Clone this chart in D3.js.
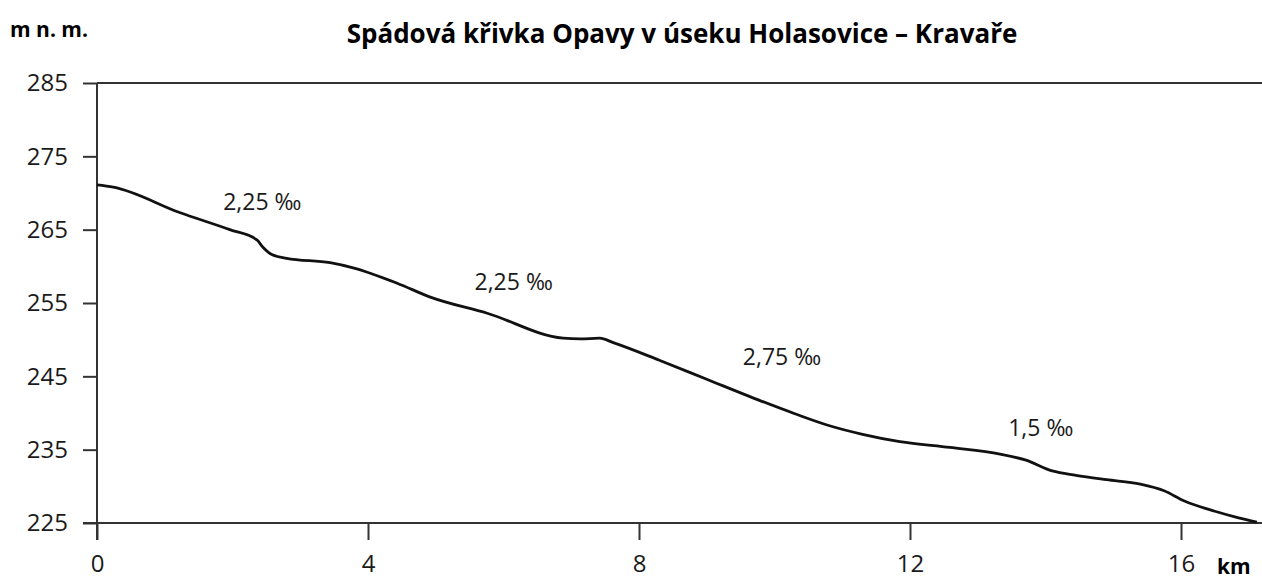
<!DOCTYPE html>
<html>
<head>
<meta charset="utf-8">
<script src="https://cdn.jsdelivr.net/npm/d3@7"></script>
<style>
  body { margin: 0; background: #fff; }
  svg { display: block; }
</style>
</head>
<body>
<div id="chart"></div>
<script>
// river profile, km from Holasovice and elevation in m n. m.
const distanceKm = [0, 0.24, 1.23, 1.96, 2.36, 2.45, 2.58, 2.80, 3.44, 3.78, 4.43, 4.92, 5.76, 6.88, 7.13, 7.42, 7.62, 8.3, 9.0, 9.7, 10.3, 10.8, 11.3, 11.85, 12.59, 13.33, 13.70, 14.10, 14.45, 14.90, 15.40, 15.75, 16.05, 16.50, 16.85, 17.12];
const elevation = [271.1, 270.8, 267.3, 265.0, 263.6, 262.6, 261.6, 261.1, 260.5, 259.8, 257.7, 255.8, 253.6, 250.2, 250.1, 250.2, 249.6, 247.2, 244.6, 242.0, 239.9, 238.3, 237.1, 236.1, 235.3, 234.4, 233.6, 232.1, 231.5, 230.9, 230.3, 229.4, 228.0, 226.6, 225.7, 225.1];

const slopeLabels = ["2,25 ‰", "2,25 ‰", "2,75 ‰", "1,5 ‰"];
const slopeKm = [2.44, 6.15, 10.11, 13.93];
const slopeM = [268.8, 257.9, 247.6, 238.0];

const yTicks = [225, 235, 245, 255, 265, 275, 285];
const xTicks = [0, 4, 8, 12, 16];

const width = 1262;
const height = 579;
const font = "'Open Sans', sans-serif";

const svg = d3.select("#chart")
  .append("svg")
  .attr("width", width)
  .attr("height", height);

const x = d3.scaleLinear().domain([0, 16]).range([97, 1181]);
const y = d3.scaleLinear().domain([225, 285]).range([523, 83]);

// title and unit labels
svg.append("text")
  .attr("x", 682).attr("y", 43)
  .attr("text-anchor", "middle")
  .attr("font-family", font)
  .attr("font-weight", "bold")
  .attr("font-size", 26)
  .attr("fill", "#000")
  .text("Spádová křivka Opavy v úseku Holasovice – Kravaře");

svg.append("text")
  .attr("x", 10).attr("y", 37)
  .attr("font-family", font)
  .attr("font-weight", "bold")
  .attr("font-size", 21)
  .attr("fill", "#000")
  .text("m n. m.");

svg.append("text")
  .attr("x", 1217).attr("y", 574)
  .attr("font-family", font)
  .attr("font-weight", "bold")
  .attr("font-size", 21)
  .attr("fill", "#000")
  .text("km");

// frame lines
const axisColor = "#333";
svg.append("line")
  .attr("x1", x(0)).attr("x2", width)
  .attr("y1", y(285)).attr("y2", y(285))
  .attr("stroke", axisColor).attr("stroke-width", 2);
svg.append("line")
  .attr("x1", x(0) - 14).attr("x2", width)
  .attr("y1", y(225)).attr("y2", y(225))
  .attr("stroke", axisColor).attr("stroke-width", 2);
svg.append("line")
  .attr("x1", x(0)).attr("x2", x(0))
  .attr("y1", y(285)).attr("y2", y(225) + 17)
  .attr("stroke", axisColor).attr("stroke-width", 2);

// y axis
const yAxis = svg.append("g")
  .attr("transform", `translate(${x(0)},0)`)
  .call(d3.axisLeft(y).tickValues(yTicks).tickSize(14).tickPadding(15).tickFormat(d3.format("d")));
yAxis.select(".domain").remove();
yAxis.selectAll(".tick line").attr("stroke", axisColor).attr("stroke-width", 2);
yAxis.selectAll(".tick text")
  .attr("font-family", font).attr("font-size", 24).attr("fill", "#1a1a1a");

// x axis
const xAxis = svg.append("g")
  .attr("transform", `translate(0,${y(225)})`)
  .call(d3.axisBottom(x).tickValues(xTicks).tickSize(17).tickPadding(15).tickFormat(d3.format("d")));
xAxis.select(".domain").remove();
xAxis.selectAll(".tick line").attr("stroke", axisColor).attr("stroke-width", 2);
xAxis.selectAll(".tick text")
  .attr("font-family", font).attr("font-size", 24).attr("fill", "#1a1a1a");

// profile line
const points = distanceKm.map((d, i) => [d, elevation[i]]);
const line = d3.line()
  .x(d => x(d[0]))
  .y(d => y(d[1]))
  .curve(d3.curveMonotoneX);

svg.append("path")
  .datum(points)
  .attr("d", line)
  .attr("fill", "none")
  .attr("stroke", "#111")
  .attr("stroke-width", 2.8)
  .attr("stroke-linejoin", "round");

// slope annotations
svg.append("g")
  .selectAll("text")
  .data(slopeLabels)
  .join("text")
  .attr("x", (d, i) => x(slopeKm[i]))
  .attr("y", (d, i) => y(slopeM[i]))
  .attr("dy", "0.35em")
  .attr("text-anchor", "middle")
  .attr("font-family", font)
  .attr("font-size", 23)
  .attr("fill", "#1a1a1a")
  .text(d => d);
</script>
</body>
</html>
